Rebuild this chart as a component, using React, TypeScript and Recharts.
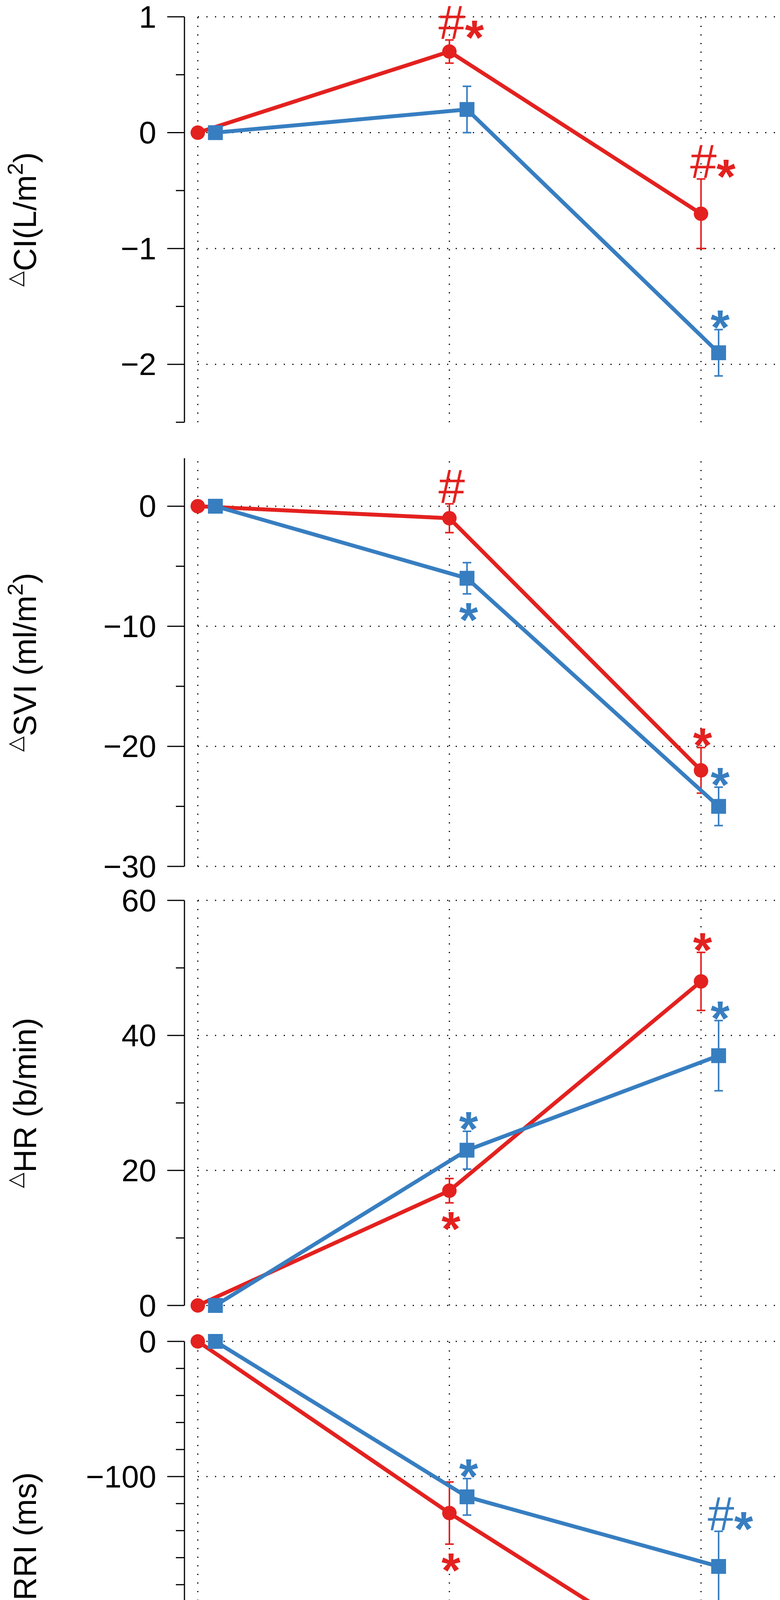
import { LineChart, Line, XAxis, YAxis, ErrorBar, ReferenceLine, ReferenceDot } from "recharts";

const RED = "#e3211f";
const BLUE = "#377ec1";
const FONT = "'Liberation Sans', Arial, sans-serif";

// phase positions (blue is dodged a little to the right)
const phaseRed = [0, 1, 2];
const phaseBlue = [0.07, 1.07, 2.07];
const phaseTicks = [0, 1, 2];

// ΔCI (L/m2)
const ciRed = [0, 0.7, -0.7];
const ciRedErr = [0, 0.1, 0.3];
const ciBlue = [0, 0.2, -1.9];
const ciBlueErr = [0, 0.2, 0.2];
const ciMajor = [1, 0, -1, -2];
const ciMinor = [0.5, -0.5, -1.5, -2.5];

// ΔSVI (ml/m2)
const sviRed = [0, -1, -22];
const sviRedErr = [0, 1.2, 1.9];
const sviBlue = [0, -6, -25];
const sviBlueErr = [0, 1.3, 1.6];
const sviMajor = [0, -10, -20, -30];
const sviMinor = [-5, -15, -25];

// ΔHR (b/min)
const hrRed = [0, 17, 48];
const hrRedErr = [0, 1.8, 4.3];
const hrBlue = [0, 23, 37];
const hrBlueErr = [0, 2.8, 5.2];
const hrMajor = [60, 40, 20, 0];
const hrMinor = [50, 30, 10];

// ΔRRI (ms)
const rriRed = [0, -127, -245];
const rriRedErr = [0, 23, 27.5];
const rriBlue = [0, -115, -166.5];
const rriBlueErr = [0, 13.5, 26];
const rriMajor = [0, -100, -200, -300];
const rriMinor = [-20, -40, -60, -80, -120, -140, -160, -180, -220, -240, -260, -280];

// significance marks: series, point index, text, side of the error bar
type Note = { series: "red" | "blue"; index: number; text: string; side: "above" | "below" };
const ciNotes: Note[] = [
  { series: "red", index: 1, text: "#*", side: "above" },
  { series: "red", index: 2, text: "#*", side: "above" },
  { series: "blue", index: 2, text: "*", side: "above" },
];
const sviNotes: Note[] = [
  { series: "red", index: 1, text: "#", side: "above" },
  { series: "blue", index: 1, text: "*", side: "below" },
  { series: "red", index: 2, text: "*", side: "above" },
  { series: "blue", index: 2, text: "*", side: "above" },
];
const hrNotes: Note[] = [
  { series: "blue", index: 1, text: "*", side: "above" },
  { series: "red", index: 1, text: "*", side: "below" },
  { series: "red", index: 2, text: "*", side: "above" },
  { series: "blue", index: 2, text: "*", side: "above" },
];
const rriNotes: Note[] = [
  { series: "blue", index: 1, text: "*", side: "above" },
  { series: "red", index: 1, text: "*", side: "below" },
  { series: "blue", index: 2, text: "#*", side: "above" },
  { series: "red", index: 2, text: "*", side: "above" },
];

// layout
const W = 1996;
const AXIS_X = 472;
const RIGHT = 9;
const PAD_T = 43;
const PAD_B = 60;
const X_DOMAIN: [number, number] = [-0.053, 2.3];
const X_END = 2.3;

const fmt = (v: number) => (v < 0 ? `\u2212${Math.abs(v)}` : String(v));

function YTick(props: any) {
  const { x, y, payload, majors } = props;
  const v = payload.value;
  const major = majors.includes(v);
  return (
    <g>
      <line x1={x - (major ? 44 : 22)} x2={x} y1={y} y2={y} stroke="#000" strokeWidth={3} />
      {major && (
        <text x={x - 72} y={y} textAnchor="end" dominantBaseline="central" fontSize={80} fontFamily={FONT} fill="#000">
          {fmt(v)}
        </text>
      )}
    </g>
  );
}

function XTick(props: any) {
  const { x, y, payload } = props;
  return (
    <text x={x} y={y + 74} textAnchor="middle" fontSize={80} fontFamily={FONT} fill="#000">
      {fmt(payload.value)}
    </text>
  );
}

function YLabel({ cy, parts }: { cy: number; parts: string[] }) {
  const x = 92;
  return (
    <text transform={`rotate(-90 ${x} ${cy})`} x={x} y={cy} textAnchor="middle" fontSize={82} fontFamily={FONT} fill="#000">
      <tspan fontSize={52} fontFamily="'DejaVu Sans', sans-serif" dy={-36}>
        △
      </tspan>
      <tspan dy={36}>{parts[0]}</tspan>
      {parts[1] ? (
        <>
          <tspan fontSize={56} dy={-34}>
            {parts[1]}
          </tspan>
          <tspan dy={34}>{parts[2]}</tspan>
        </>
      ) : null}
    </text>
  );
}

function NoteMark({ cx, cy, text, side, color }: { cx: number; cy: number; text: string; side: string; color: string }) {
  const hash = text.includes("#");
  const star = text.includes("*");
  const starCy = side === "above" ? cy - 35 : cy + 38;
  const hashBase = side === "above" ? cy - 3 : cy + 95;
  return (
    <g fill={color} fontFamily={FONT}>
      {hash && (
        <text x={cx + 6} y={hashBase} textAnchor="middle" fontSize={122}>
          #
        </text>
      )}
      {star && (
        <text x={hash ? cx + 64 : cx + 4} y={starCy + 72} textAnchor="middle" fontSize={125} fontWeight="bold">
          *
        </text>
      )}
    </g>
  );
}

type PanelProps = {
  top: number;
  plotH: number;
  domain: [number, number];
  majors: number[];
  minors: number[];
  label: string[];
  red: number[];
  redErr: number[];
  blue: number[];
  blueErr: number[];
  notes: Note[];
};

function Panel({ top, plotH, domain, majors, minors, label, red, redErr, blue, blueErr, notes }: PanelProps) {
  const redRows = phaseRed.map((x, i) => ({ x, y: red[i], err: redErr[i] }));
  const blueRows = phaseBlue.map((x, i) => ({ x, y: blue[i], err: blueErr[i] }));
  const height = PAD_T + plotH + PAD_B;
  const grid = { stroke: "#000", strokeWidth: 3, strokeDasharray: "3 19" };
  return (
    <div style={{ position: "absolute", left: 0, top: top - PAD_T }}>
      <LineChart width={W} height={height} margin={{ top: PAD_T, right: RIGHT, bottom: PAD_B, left: 0 }}>
        <XAxis type="number" dataKey="x" domain={X_DOMAIN} hide />
        <YAxis
          type="number"
          domain={domain}
          ticks={[...majors, ...minors]}
          interval={0}
          width={AXIS_X}
          tickSize={0}
          tickMargin={0}
          tickLine={false}
          axisLine={{ stroke: "#000", strokeWidth: 3 }}
          tick={(p: any) => <YTick {...p} majors={majors} />}
          label={() => <YLabel cy={PAD_T + plotH / 2} parts={label} />}
        />
        {majors.map((v) => (
          <ReferenceLine key={`h${v}`} segment={[{ x: 0, y: v }, { x: X_END, y: v }]} {...grid} />
        ))}
        {phaseTicks.map((p) => (
          <ReferenceLine key={`v${p}`} segment={[{ x: p, y: domain[0] }, { x: p, y: domain[1] }]} {...grid} />
        ))}
        <Line
          data={redRows}
          dataKey="y"
          stroke={RED}
          strokeWidth={10}
          isAnimationActive={false}
          dot={(p: any) => <circle key={`r${p.index}`} cx={p.cx} cy={p.cy} r={18.5} fill={RED} />}
        >
          <ErrorBar dataKey="err" width={11} strokeWidth={4} stroke={RED} />
        </Line>
        <Line
          data={blueRows}
          dataKey="y"
          stroke={BLUE}
          strokeWidth={10}
          isAnimationActive={false}
          dot={(p: any) => <rect key={`b${p.index}`} x={p.cx - 19} y={p.cy - 19} width={38} height={38} fill={BLUE} />}
        >
          <ErrorBar dataKey="err" width={11} strokeWidth={4} stroke={BLUE} />
        </Line>
        {notes.map((n, i) => {
          const vals = n.series === "red" ? red : blue;
          const errs = n.series === "red" ? redErr : blueErr;
          const xs = n.series === "red" ? phaseRed : phaseBlue;
          const color = n.series === "red" ? RED : BLUE;
          const yv = n.side === "above" ? vals[n.index] + errs[n.index] : vals[n.index] - errs[n.index];
          return (
            <ReferenceDot
              key={i}
              x={xs[n.index]}
              y={yv}
              r={0}
              shape={(p: any) => <NoteMark cx={p.cx} cy={p.cy} text={n.text} side={n.side} color={color} />}
            />
          );
        })}
      </LineChart>
    </div>
  );
}

function PhaseAxis() {
  const rows = phaseTicks.map((x) => ({ x, y: 0 }));
  return (
    <div style={{ position: "absolute", left: 0, top: 4400 }}>
      <LineChart width={W} height={352} data={rows} margin={{ top: 6, right: RIGHT, bottom: 0, left: 506 }}>
        <XAxis
          type="number"
          dataKey="x"
          domain={[0, X_END]}
          ticks={phaseTicks}
          interval={0}
          height={246}
          tickSize={42}
          tickMargin={0}
          tickLine={{ stroke: "#000", strokeWidth: 3 }}
          axisLine={{ stroke: "#000", strokeWidth: 3 }}
          tick={<XTick />}
          label={() => (
            <text x={1242} y={337} textAnchor="middle" fontSize={80} fontFamily={FONT} fill="#000">
              PHASE
            </text>
          )}
        />
        <YAxis hide domain={[0, 1]} />
        <Line dataKey="y" stroke="none" dot={false} isAnimationActive={false} />
      </LineChart>
    </div>
  );
}

export default function App() {
  return (
    <div style={{ position: "absolute", left: 0, top: 0, width: W, height: 4752, background: "#fff" }}>
      <Panel
        top={43}
        plotH={1038}
        domain={[-2.5, 1]}
        majors={ciMajor}
        minors={ciMinor}
        label={["CI(L/m", "2", ")"]}
        red={ciRed}
        redErr={ciRedErr}
        blue={ciBlue}
        blueErr={ciBlueErr}
        notes={ciNotes}
      />
      <Panel
        top={1173}
        plotH={1045}
        domain={[-30, 4]}
        majors={sviMajor}
        minors={sviMinor}
        label={["SVI (ml/m", "2", ")"]}
        red={sviRed}
        redErr={sviRedErr}
        blue={sviBlue}
        blueErr={sviBlueErr}
        notes={sviNotes}
      />
      <Panel
        top={2305}
        plotH={1037}
        domain={[0, 60]}
        majors={hrMajor}
        minors={hrMinor}
        label={["HR (b/min)"]}
        red={hrRed}
        redErr={hrRedErr}
        blue={hrBlue}
        blueErr={hrBlueErr}
        notes={hrNotes}
      />
      <Panel
        top={3434}
        plotH={1038}
        domain={[-300, 0]}
        majors={rriMajor}
        minors={rriMinor}
        label={["RRI (ms)"]}
        red={rriRed}
        redErr={rriRedErr}
        blue={rriBlue}
        blueErr={rriBlueErr}
        notes={rriNotes}
      />
      <PhaseAxis />
    </div>
  );
}
